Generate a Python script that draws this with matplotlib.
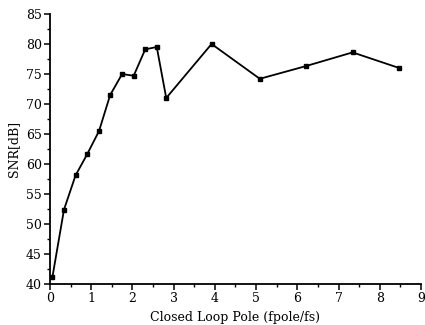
import matplotlib
matplotlib.use("Agg")
import matplotlib.pyplot as plt
from matplotlib.ticker import MultipleLocator

# closed loop pole position vs. measured SNR
pole = [0.06, 0.34, 0.62, 0.90, 1.19, 1.46, 1.75, 2.03, 2.31, 2.59, 2.82,
        3.92, 5.09, 6.20, 7.34, 8.47]
snr = [41.2, 52.4, 58.1, 61.6, 65.5, 71.5, 75.0, 74.7, 79.1, 79.5, 71.0,
       80.0, 74.2, 76.3, 78.6, 76.0]

plt.rcParams['font.family'] = ['DejaVu Serif']

fig = plt.figure(figsize=(4.25, 3.25), dpi=100)
ax = fig.add_axes([0.1176, 0.126, 0.873, 0.831])

ax.plot(pole, snr, 'k-', linewidth=1.3, marker='s', markersize=3.2)

ax.set_xlim(0, 9)
ax.set_ylim(40, 85)
ax.xaxis.set_major_locator(MultipleLocator(1))
ax.xaxis.set_minor_locator(MultipleLocator(0.5))
ax.yaxis.set_major_locator(MultipleLocator(5))
ax.yaxis.set_minor_locator(MultipleLocator(2.5))

for side in ['top', 'right']:
    ax.spines[side].set_visible(False)
for side in ['left', 'bottom']:
    ax.spines[side].set_linewidth(1.3)

ax.tick_params(which='major', direction='out', length=4, width=1.1,
               labelsize=9, pad=2)
ax.tick_params(which='minor', direction='out', length=2.5, width=1.0)

ax.set_xlabel('Closed Loop Pole (fpole/fs)', fontsize=9, labelpad=4)
ax.set_ylabel('SNR[dB]', fontsize=9, labelpad=4)

fig.savefig('out.png', dpi=100)
